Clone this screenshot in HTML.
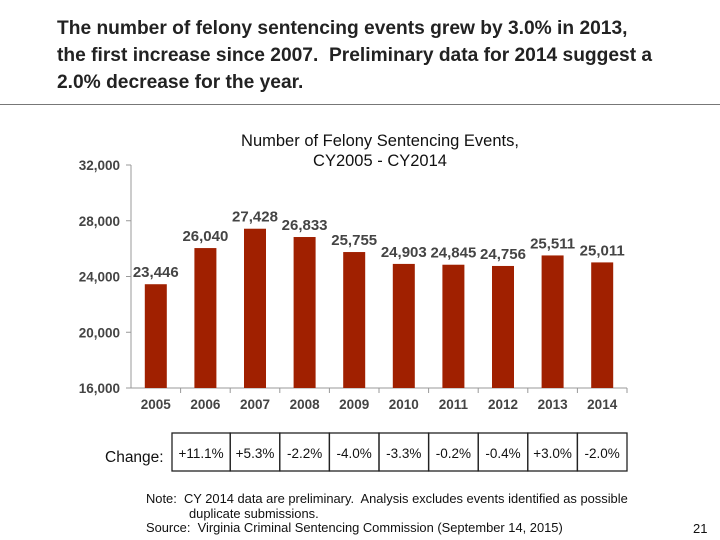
<!DOCTYPE html>
<html><head><meta charset="utf-8"><style>
body{margin:0;width:720px;height:540px;background:#fff;font-family:"Liberation Sans",Arial,sans-serif;overflow:hidden;position:relative}
.t{position:absolute;white-space:nowrap}
</style></head><body>
<div class="t" style="left:57px;top:15px;font-size:19.2px;font-weight:bold;line-height:27px;color:#222">The number of felony sentencing events grew by 3.0% in 2013,<br>the first increase since 2007.&nbsp; Preliminary data for 2014 suggest a<br>2.0% decrease for the year.</div>
<div style="position:absolute;left:0;top:104px;width:720px;height:1px;background:#777"></div>
<svg id="chart" width="720" height="540" style="position:absolute;left:0;top:0" font-family="Liberation Sans, Arial, sans-serif"></svg>
<div class="t" style="left:146px;top:492px;font-size:12.9px;line-height:14.5px;color:#111">Note:&nbsp; CY 2014 data are preliminary.&nbsp; Analysis excludes events identified as possible<br>&nbsp;&nbsp;&nbsp;&nbsp;&nbsp;&nbsp;&nbsp;&nbsp;&nbsp;&nbsp;&nbsp; duplicate submissions.<br>Source:&nbsp; Virginia Criminal Sentencing Commission (September 14, 2015)</div>
<div class="t" style="left:693px;top:521px;font-size:13px;color:#111">21</div>
<script>
const categories=["2005","2006","2007","2008","2009","2010","2011","2012","2013","2014"];
const values=[23446,26040,27428,26833,25755,24903,24845,24756,25511,25011];
const valueLabels=["23,446","26,040","27,428","26,833","25,755","24,903","24,845","24,756","25,511","25,011"];
const yTicks=[16000,20000,24000,28000,32000];
const yTickLabels=["16,000","20,000","24,000","28,000","32,000"];
const changes=["+11.1%","+5.3%","-2.2%","-4.0%","-3.3%","-0.2%","-0.4%","+3.0%","-2.0%"];
const svg=document.getElementById('chart');
const NS='http://www.w3.org/2000/svg';
const x0=131,x1=627,yTop=165,yBot=388,vMin=16000,vMax=32000;
const band=(x1-x0)/categories.length;
const xs=i=>x0+band*(i+0.5);
const ys=v=>yBot-(v-vMin)/(vMax-vMin)*(yBot-yTop);
function mk(tag,attrs,txt){const e=document.createElementNS(NS,tag);for(const k in attrs)e.setAttribute(k,attrs[k]);if(txt!=null)e.textContent=txt;svg.appendChild(e);return e;}
let e;
e=mk('text',{x:380,y:146,'text-anchor':'middle','font-size':16.5,fill:'#111'},'Number of Felony Sentencing Events,');


e=mk('text',{x:380,y:166,'text-anchor':'middle','font-size':16.5,fill:'#111'},'CY2005 - CY2014');


e=mk('line',{x1:x0,y1:yTop,x2:x0,y2:yBot,stroke:'#999'});


e=mk('line',{x1:x0,y1:yBot,x2:x1,y2:yBot,stroke:'#999'});


yTicks.forEach((v,i)=>{
 e=mk('line',{x1:x0-5,y1:ys(v),x2:x0,y2:ys(v),stroke:'#999'});
 
 
 e=mk('text',{x:x0-11,y:ys(v)+5,'text-anchor':'end','font-size':13.5,'font-weight':'bold',fill:'#444'},yTickLabels[i]);
 
 
});
for(let i=1;i<=categories.length;i++){
 e=mk('line',{x1:x0+band*i,y1:yBot,x2:x0+band*i,y2:yBot+5,stroke:'#999'});
 
 
}
categories.forEach((c,i)=>{
 const cx=xs(i),y=ys(values[i]);
 e=mk('rect',{x:cx-11,y:y,width:22,height:yBot-y,fill:'#a02000'});
 
 
 e=mk('text',{x:cx,y:y-7,'text-anchor':'middle','font-size':15,'font-weight':'bold',fill:'#444'},valueLabels[i]);
 
 
 e=mk('text',{x:cx,y:yBot+21,'text-anchor':'middle','font-size':13.5,'font-weight':'bold',fill:'#444'},c);
 
 
});
e=mk('text',{x:105,y:462,'font-size':15.5,fill:'#111'},'Change:');


const tTop=433,tBot=471,tLeft=172;
changes.forEach((c,i)=>{
 const left=i===0?tLeft:x0+band*(i+1), r=x0+band*(i+2);
 e=mk('rect',{x:left,y:tTop,width:r-left,height:tBot-tTop,fill:'none',stroke:'#222','stroke-width':1.3});
 
 
 e=mk('text',{x:(left+r)/2,y:458,'text-anchor':'middle','font-size':13.5,fill:'#111'},c);
 
 
});
</script>
</body></html>
